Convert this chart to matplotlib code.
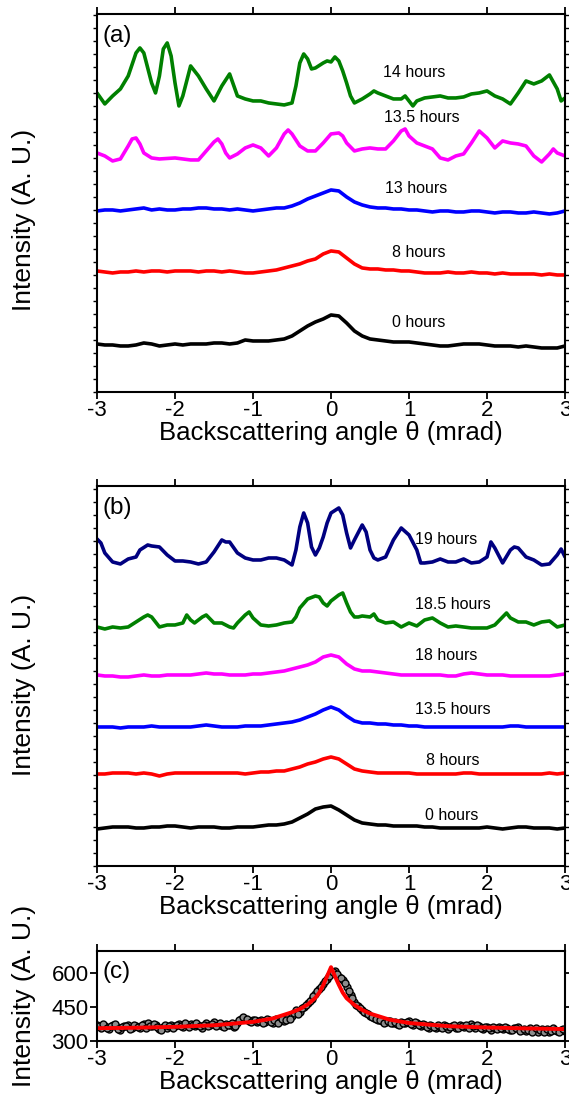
import matplotlib.pyplot as plt
import numpy as np

plt.rcParams['font.family'] = ['Liberation Sans', 'DejaVu Sans']
plt.rcParams['axes.unicode_minus'] = False

# common angle grid (mrad) for the smooth curves
theta = np.round(np.arange(-3.0, 3.01, 0.1), 2)

# ---- panel (a) ----
a14_x = [-3.0, -2.9, -2.8, -2.7, -2.6, -2.5, -2.45, -2.4, -2.3, -2.25, -2.2, -2.15, -2.1, -2.05, -2.0,
         -1.95, -1.9, -1.8, -1.7, -1.6, -1.5, -1.4, -1.3, -1.2, -1.1, -1.0, -0.9, -0.8, -0.7, -0.6,
         -0.5, -0.45, -0.4, -0.35, -0.3, -0.25, -0.2, -0.1, -0.05, 0.0, 0.05, 0.1, 0.15, 0.2, 0.25,
         0.3, 0.4, 0.5, 0.55, 0.6, 0.7, 0.8, 0.9, 0.95, 1.0, 1.05, 1.1, 1.2, 1.3, 1.4,
         1.5, 1.6, 1.7, 1.8, 1.9, 2.0, 2.1, 2.2, 2.3, 2.4, 2.5, 2.6, 2.7, 2.75, 2.8, 2.9, 2.95, 3.0]
a14_y = [299, 288, 296, 303, 316, 339, 344, 339, 309, 299, 316, 343, 349, 336, 309,
         286, 296, 326, 316, 303, 291, 306, 318, 296, 293, 291, 291, 289, 288, 287,
         289, 306, 329, 338, 333, 323, 324, 329, 331, 330, 335, 331, 321, 309, 296,
         289, 293, 298, 301, 299, 296, 293, 293, 296, 291, 286, 291, 294, 295, 296,
         294, 294, 295, 298, 299, 301, 296, 293, 288, 299, 311, 308, 311, 314, 317, 303, 291, 294]

a135_x = [-3.0, -2.9, -2.8, -2.7, -2.6, -2.55, -2.5, -2.45, -2.4, -2.3, -2.2, -2.0, -1.8, -1.7, -1.6,
          -1.5, -1.45, -1.4, -1.35, -1.3, -1.2, -1.1, -1.0, -0.9, -0.8, -0.7, -0.6, -0.55, -0.5, -0.4,
          -0.3, -0.2, -0.1, 0.0, 0.1, 0.15, 0.2, 0.3, 0.4, 0.5, 0.6, 0.7, 0.8, 0.9, 0.95,
          1.0, 1.1, 1.2, 1.3, 1.4, 1.5, 1.6, 1.7, 1.8, 1.9, 2.0, 2.1, 2.2, 2.3, 2.4,
          2.5, 2.6, 2.7, 2.8, 2.85, 2.9, 3.0]
a135_y = [239, 236, 231, 233, 246, 253, 254, 248, 239, 234, 233, 234, 232, 232, 241,
          250, 253, 248, 239, 234, 238, 244, 247, 244, 236, 244, 258, 262, 258, 246,
          241, 241, 249, 258, 259, 256, 249, 241, 243, 244, 243, 243, 251, 261, 263,
          256, 249, 246, 243, 234, 232, 236, 238, 249, 261, 254, 244, 251, 249, 248,
          246, 236, 230, 238, 243, 239, 236]

a13_y = [181, 182, 182, 181, 182, 183, 184, 182, 183, 182, 182, 183, 183, 184, 184, 183, 183, 182, 183, 182,
         181, 182, 183, 184, 184, 186, 189, 193, 196, 199, 202, 201, 195, 190, 187, 185, 184, 184, 183, 183,
         182, 182, 181, 180, 181, 181, 180, 180, 181, 181, 180, 179, 180, 180, 179, 179, 180, 179, 178, 179, 181]
a8_y = [121, 120, 119, 120, 120, 121, 120, 121, 121, 120, 121, 121, 121, 120, 121, 121, 120, 121, 120, 119,
        119, 120, 121, 122, 124, 126, 128, 131, 133, 138, 141, 140, 134, 128, 124, 123, 123, 122, 122, 121,
        121, 120, 119, 119, 119, 120, 119, 119, 120, 119, 119, 118, 119, 118, 118, 118, 118, 117, 118, 117, 117]
a0_y = [48, 47, 47, 46, 46, 47, 49, 48, 46, 47, 48, 47, 48, 48, 48, 49, 49, 48, 49, 52,
        51, 51, 51, 52, 53, 56, 61, 66, 70, 73, 77, 76, 69, 61, 56, 53, 52, 51, 50, 50,
        50, 49, 48, 47, 46, 46, 47, 48, 48, 48, 47, 46, 46, 46, 45, 46, 45, 44, 44, 44, 46]

# ---- panel (b) ----
b19_x = [-3.0, -2.95, -2.9, -2.8, -2.7, -2.6, -2.5, -2.45, -2.35, -2.3, -2.2, -2.1, -2.0, -1.9, -1.8,
         -1.7, -1.6, -1.5, -1.4, -1.35, -1.3, -1.2, -1.1, -1.0, -0.9, -0.8, -0.7, -0.6, -0.5, -0.45,
         -0.4, -0.35, -0.3, -0.25, -0.2, -0.15, -0.1, -0.05, 0.0, 0.1, 0.15, 0.2, 0.25, 0.3, 0.4,
         0.45, 0.5, 0.55, 0.6, 0.7, 0.8, 0.9, 1.0, 1.1, 1.15, 1.2, 1.3, 1.4, 1.5, 1.6,
         1.7, 1.8, 1.9, 2.0, 2.05, 2.1, 2.2, 2.3, 2.35, 2.4, 2.5, 2.6, 2.7, 2.8, 2.9, 2.95, 3.0]
b19_y = [327, 323, 313, 304, 302, 307, 309, 316, 321, 320, 319, 311, 305, 305, 304,
         302, 304, 314, 326, 324, 324, 313, 308, 306, 306, 308, 308, 306, 301, 316,
         339, 353, 343, 319, 311, 318, 329, 343, 353, 358, 351, 333, 318, 326, 341,
         334, 316, 308, 306, 309, 326, 338, 331, 316, 303, 303, 304, 307, 304, 304,
         307, 303, 304, 309, 324, 318, 303, 316, 319, 318, 309, 306, 301, 302, 311, 317, 309]

b185_x = [-3.0, -2.9, -2.8, -2.7, -2.6, -2.5, -2.4, -2.35, -2.3, -2.2, -2.1, -2.0, -1.9, -1.85, -1.8,
          -1.75, -1.65, -1.6, -1.5, -1.4, -1.3, -1.25, -1.2, -1.1, -1.05, -1.0, -0.9, -0.8, -0.7, -0.6,
          -0.5, -0.45, -0.4, -0.3, -0.2, -0.15, -0.1, -0.05, 0.0, 0.1, 0.15, 0.2, 0.25, 0.3, 0.35,
          0.4, 0.5, 0.55, 0.6, 0.7, 0.8, 0.9, 1.0, 1.1, 1.2, 1.3, 1.4, 1.5, 1.6, 1.7,
          1.8, 1.9, 2.0, 2.1, 2.2, 2.25, 2.3, 2.4, 2.5, 2.6, 2.7, 2.8, 2.9, 3.0]
b185_y = [239, 237, 239, 238, 239, 244, 249, 251, 249, 239, 241, 241, 243, 251, 246,
          243, 249, 251, 243, 243, 239, 238, 243, 251, 254, 248, 241, 240, 241, 243,
          244, 249, 258, 267, 270, 269, 263, 260, 265, 271, 273, 263, 254, 249, 249,
          250, 249, 252, 246, 243, 244, 239, 243, 240, 246, 248, 243, 239, 240, 239,
          238, 238, 238, 241, 249, 253, 248, 244, 244, 241, 244, 245, 239, 241]

b18_y = [191, 190, 190, 189, 189, 190, 191, 190, 190, 191, 191, 191, 191, 192, 193, 192, 192, 191, 191, 191,
         192, 192, 193, 194, 195, 197, 199, 201, 204, 209, 211, 209, 202, 197, 195, 195, 194, 193, 192, 191,
         191, 191, 191, 191, 191, 190, 190, 192, 193, 192, 191, 191, 191, 190, 190, 190, 190, 190, 190, 191, 192]
b135_y = [139, 139, 139, 138, 139, 139, 139, 140, 139, 139, 139, 139, 139, 140, 141, 140, 139, 139, 139, 140,
          140, 140, 141, 142, 143, 144, 146, 149, 152, 156, 159, 156, 150, 145, 143, 143, 142, 142, 141, 141,
          140, 140, 139, 139, 139, 139, 139, 139, 139, 139, 139, 139, 139, 140, 140, 139, 139, 139, 139, 139, 139]
b8_y = [92, 92, 93, 93, 93, 92, 93, 92, 90, 92, 93, 93, 93, 93, 93, 93, 93, 93, 93, 92,
        93, 94, 94, 95, 95, 97, 99, 102, 104, 107, 109, 107, 102, 97, 95, 94, 93, 93, 93, 93,
        93, 92, 92, 92, 92, 92, 92, 93, 93, 92, 92, 92, 92, 92, 92, 92, 92, 92, 93, 92, 93]
b0_y = [37, 38, 39, 39, 39, 38, 38, 39, 39, 40, 40, 39, 38, 39, 39, 39, 38, 38, 39, 39,
        39, 40, 41, 41, 42, 44, 48, 52, 57, 59, 60, 56, 51, 46, 43, 42, 41, 41, 40, 40,
        40, 40, 39, 39, 38, 38, 38, 38, 38, 38, 39, 38, 37, 38, 39, 39, 38, 38, 38, 37, 38]

# ---- panel (c) ----
c_x = np.round(np.arange(-3.0, 3.001, 0.05), 2)
c_y = [372, 360, 368, 355, 370, 362, 350, 366, 372, 360, 368, 358, 374, 380, 366, 372, 352, 364, 358, 372,
       368, 375, 362, 370, 376, 366, 372, 360, 378, 370, 384, 372, 366, 376, 370, 362, 378, 400, 396, 388,
       392, 384, 395, 386, 392, 380, 396, 390, 388, 405, 412, 440, 428, 450, 470, 488, 510, 530, 552, 575,
       598, 612, 585, 570, 540, 505, 475, 455, 440, 425, 410, 402, 395, 388, 384, 390, 380, 374, 386, 378,
       390, 372, 380, 366, 372, 360, 368, 358, 364, 372, 355, 366, 360, 372, 362, 368, 376, 360, 366, 355,
       362, 350, 358, 364, 352, 360, 348, 356, 362, 350, 344, 356, 348, 340, 352, 346, 338, 358, 344, 350, 346]
c_x2 = np.round(np.arange(-2.975, 2.98, 0.05), 3)
c_y2 = [365, 374, 358, 366, 376, 355, 362, 368, 352, 370,
        364, 372, 360, 368, 375, 362, 348, 370, 365, 358,
        372, 366, 378, 362, 370, 380, 368, 372, 365, 376,
        368, 378, 362, 372, 380, 368, 392, 405, 398, 386,
        395, 388, 380, 396, 385, 392, 382, 398, 392, 400,
        425, 418, 445, 458, 478, 500, 520, 540, 565, 590,
        605, 596, 580, 556, 520, 490, 462, 448, 430, 418,
        405, 398, 392, 380, 388, 378, 384, 372, 380, 384,
        376, 386, 370, 375, 364, 372, 362, 370, 358, 366,
        362, 370, 356, 366, 372, 360, 366, 370, 358, 364,
        356, 362, 352, 358, 364, 355, 350, 360, 346, 354,
        350, 342, 356, 348, 340, 352, 344, 348, 338, 352]
fit_x = [-3.0, -2.5, -2.0, -1.5, -1.0, -0.75, -0.5, -0.4, -0.3, -0.2, -0.15, -0.1, -0.05, 0.0,
         0.05, 0.1, 0.15, 0.2, 0.3, 0.4, 0.5, 0.75, 1.0, 1.5, 2.0, 2.5, 3.0]
fit_y = [357, 359, 363, 370, 385, 400, 428, 442, 462, 492, 515, 548, 588, 628,
         588, 550, 515, 490, 460, 438, 422, 395, 380, 366, 360, 356, 353]

fig = plt.figure(figsize=(5.69, 10.98), dpi=100)
ax_a = fig.add_axes([0.1705, 0.643, 0.8225, 0.3443])
ax_b = fig.add_axes([0.1705, 0.2113, 0.8225, 0.3461])
ax_c = fig.add_axes([0.1705, 0.0519, 0.8225, 0.082])

lw = 2.6
kw = dict(lw=lw, solid_joinstyle='round', solid_capstyle='round')
ax_a.plot(a14_x, a14_y, color='#008000', **kw)
ax_a.plot(a135_x, a135_y, color='#ff00ff', **kw)
ax_a.plot(theta, a13_y, color='#0000ff', **kw)
ax_a.plot(theta, a8_y, color='#ff0000', **kw)
ax_a.plot(theta, a0_y, color='black', **kw)
ax_a.set_ylim(0, 378)

ax_b.plot(b19_x, b19_y, color='#000080', **kw)
ax_b.plot(b185_x, b185_y, color='#008000', **kw)
ax_b.plot(theta, b18_y, color='#ff00ff', **kw)
ax_b.plot(theta, b135_y, color='#0000ff', **kw)
ax_b.plot(theta, b8_y, color='#ff0000', **kw)
ax_b.plot(theta, b0_y, color='black', **kw)
ax_b.set_ylim(0, 380)

ax_c.plot(c_x, c_y, 'o', ms=5, mfc='#8c8c8c', mec='black', mew=1.0)
ax_c.plot(c_x2, c_y2, 'o', ms=5, mfc='#8c8c8c', mec='black', mew=1.0)
ax_c.plot(fit_x, fit_y, color='#ff0000', lw=2.8, solid_joinstyle='round')
ax_c.set_ylim(300, 700)
ax_c.set_yticks([300, 450, 600])

a_labels = ['14 hours', '13.5 hours', '13 hours', '8 hours', '0 hours']
a_lab_x = [1.07, 1.16, 1.09, 1.12, 1.12]
a_lab_y = [319, 274, 203, 139, 69]
for t, x, y in zip(a_labels, a_lab_x, a_lab_y):
    ax_a.text(x, y, t, fontsize=11.5, ha='center', va='center')

b_labels = ['19 hours', '18.5 hours', '18 hours', '13.5 hours', '8 hours', '0 hours']
b_lab_x = [1.48, 1.56, 1.48, 1.56, 1.56, 1.55]
b_lab_y = [326, 261, 210, 156, 105, 50]
for t, x, y in zip(b_labels, b_lab_x, b_lab_y):
    ax_b.text(x, y, t, fontsize=11.5, ha='center', va='center')

for ax, letter, ly in [(ax_a, '(a)', 0.942), (ax_b, '(b)', 0.942), (ax_c, '(c)', 0.77)]:
    ax.text(0.012, ly, letter, transform=ax.transAxes, fontsize=17.5, va='center', ha='left')
    ax.set_xlim(-3, 3)
    ax.set_xticks(np.arange(-3, 4, 1))
    ax.set_xlabel('Backscattering angle θ (mrad)', fontsize=18.5, labelpad=0)
    ax.set_ylabel('Intensity (A. U.)', fontsize=19)
    for s in ax.spines.values():
        s.set_linewidth(1.5)
    ax.tick_params(axis='x', which='major', direction='out', length=5, width=1.3,
                   labelsize=16, pad=1, top=True)
    ax.tick_params(axis='y', which='major', direction='out', length=3, width=1.0,
                   right=True)

for ax in (ax_a, ax_b):
    ax.set_yticks(np.arange(0, ax.get_ylim()[1], 13))
    ax.tick_params(axis='y', labelleft=False)
ax_a.yaxis.set_label_coords(-0.13, 0.455)
ax_b.yaxis.set_label_coords(-0.13, 0.476)
ax_c.tick_params(axis='y', length=5, width=1.3, labelsize=16, pad=1)
ax_c.yaxis.set_label_coords(-0.13, 0.5)

fig.savefig('out.png', dpi=100)
